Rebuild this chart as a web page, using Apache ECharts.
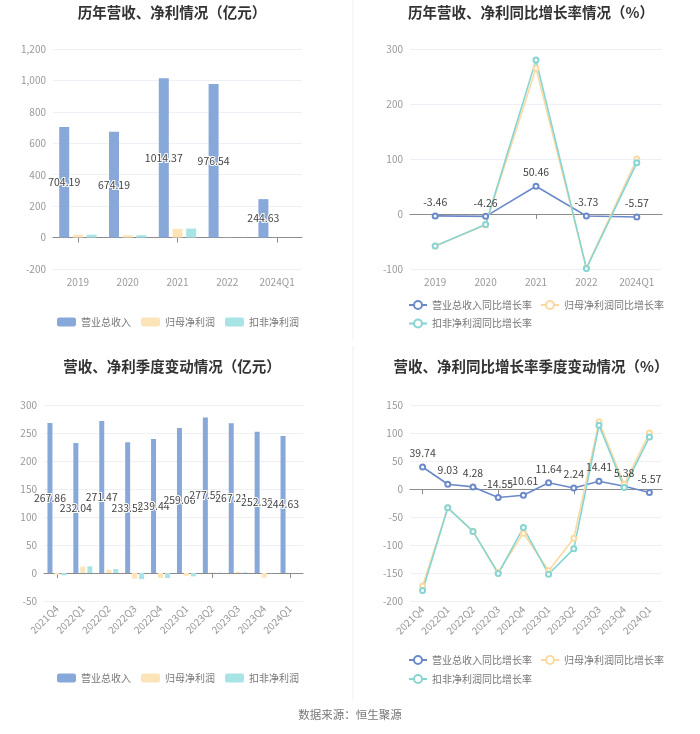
<!DOCTYPE html>
<html><head><meta charset="utf-8">
<script src="https://cdn.jsdelivr.net/npm/echarts@6/dist/echarts.min.js"></script>
<style>html,body{margin:0;padding:0;background:#fff}#c{width:700px;height:734px}</style>
</head><body><div id="c"></div>
<script>
const yearCats = ['2019','2020','2021','2022','2024Q1'];
const yearRevenue = [704.19, 674.19, 1014.37, 976.54, 244.63];
const yearNetProfit = [18, 14.5, 55, 1.1, 0.4];
const yearDeductedProfit = [18.5, 15, 57, 0.6, 0.3];
const yearRevenueGrowth = [-3.46, -4.26, 50.46, -3.73, -5.57];
const yearNetProfitGrowth = [-58, -20, 265, -98, 100];
const yearDeductedGrowth = [-58, -19, 280, -99, 93];

const quarterCats = ['2021Q4','2022Q1','2022Q2','2022Q3','2022Q4','2023Q1','2023Q2','2023Q3','2023Q4','2024Q1'];
const quarterRevenue = [267.86, 232.04, 271.47, 233.55, 239.44, 259.06, 277.55, 267.21, 252.32, 244.63];
const quarterNetProfit = [-3, 11.5, 6, -10, -8.5, -5, 0.9, 2, -8, 0.05];
const quarterDeductedProfit = [-4, 12, 7, -11, -9, -6, 0.4, 1, -0.3, 0.1];
const quarterRevenueGrowth = [39.74, 9.03, 4.28, -14.55, -10.61, 11.64, 2.24, 14.41, 5.38, -5.57];
const quarterNetProfitGrowth = [-172, -33, -75, -148, -78, -145, -87, 120, 9, 100];
const quarterDeductedGrowth = [-180, -33, -75, -150, -68, -151, -106, 114, 3, 93];

const seriesNames = ['营业总收入', '归母净利润', '扣非净利润'];
const growthNames = ['营业总收入同比增长率', '归母净利润同比增长率', '扣非净利润同比增长率'];
const titles = ['历年营收、净利情况（亿元）', '历年营收、净利同比增长率情况（%）', '营收、净利季度变动情况（亿元）', '营收、净利同比增长率季度变动情况（%）'];

const FONT = '"Noto Sans CJK SC", "Noto Sans", sans-serif';
const barColors = ['#88a8da', '#fde3b8', '#a8e3e6'];
const lineColors = ['#6c8aca', '#fcd9a0', '#86d5d3'];
const gridCol = '#eef0f5';
const axisCol = '#8c8c8c';

const grids = [
  {left: 53, top: 49, width: 249, height: 220},
  {left: 410, top: 49, width: 252, height: 220},
  {left: 44, top: 405, width: 259, height: 196},
  {left: 410, top: 405, width: 252, height: 196.7}
];
const yRanges = [[-200, 1200, 200], [-100, 300, 100], [-50, 300, 50], [-200, 150, 50]];

const xAxis = [], yAxis = [], series = [];
grids.forEach((g, i) => {
  const cats = i < 2 ? yearCats : quarterCats;
  const rot = i < 2 ? 0 : 45;
  xAxis.push({
    type: 'category', gridIndex: i, data: cats,
    axisLine: {onZero: true, lineStyle: {color: axisCol, width: 1}},
    axisTick: {show: true, alignWithLabel: true, length: 5, lineStyle: {color: axisCol}},
    axisLabel: {show: false}, splitLine: {show: false}
  });
  xAxis.push({
    type: 'category', gridIndex: i, data: cats, position: 'bottom',
    axisLine: {show: false, onZero: false}, axisTick: {show: false},
    axisLabel: {color: '#999', fontSize: 10, fontFamily: FONT, rotate: rot, margin: rot ? 6 : 8, interval: 0},
    splitLine: {show: false}
  });
  const r = yRanges[i];
  yAxis.push({
    type: 'value', gridIndex: i, min: r[0], max: r[1], interval: r[2],
    axisLine: {show: false}, axisTick: {show: false},
    axisLabel: {color: '#999', fontSize: 10, fontFamily: FONT, margin: 7,
      formatter: v => v.toLocaleString('en-US')},
    splitLine: {lineStyle: {color: gridCol, width: 1}}
  });
});

function addBars(gi, vals, bw, gap) {
  vals.forEach((arr, k) => {
    series.push({
      name: seriesNames[k], type: 'bar', xAxisIndex: gi * 2, yAxisIndex: gi,
      data: arr, barWidth: bw, barGap: gap,
      itemStyle: {color: barColors[k]},
      label: k === 0 ? {show: true, position: 'inside', color: '#444', fontSize: 10.5, fontFamily: FONT,
        textBorderColor: '#fff', textBorderWidth: 2} : {show: false}
    });
  });
}
function addLines(gi, vals) {
  vals.forEach((arr, k) => {
    series.push({
      name: growthNames[k], type: 'line', xAxisIndex: gi * 2, yAxisIndex: gi,
      data: arr, symbol: 'emptyCircle', symbolSize: 5,
      lineStyle: {color: lineColors[k], width: 1.6},
      itemStyle: {color: lineColors[k], borderWidth: 1.3},
      label: k === 0 ? {show: true, position: 'top', color: '#444', fontSize: 10.5, fontFamily: FONT, distance: 5} : {show: false}
    });
  });
}
addBars(0, [yearRevenue, yearNetProfit, yearDeductedProfit], 10, '37%');
addLines(1, [yearRevenueGrowth, yearNetProfitGrowth, yearDeductedGrowth]);
addBars(2, [quarterRevenue, quarterNetProfit, quarterDeductedProfit], 5, '40%');
addLines(3, [quarterRevenueGrowth, quarterNetProfitGrowth, quarterDeductedGrowth]);

const titleCenters = [[167, 13], [526, 13], [167, 367], [526, 367]];
const title = titles.map((t, i) => ({
  text: t, left: titleCenters[i][0], top: titleCenters[i][1] - 13, textAlign: 'center',
  textStyle: {fontSize: 14.5, fontWeight: 'bold', color: '#333', fontFamily: FONT}
}));

const legTxt = {color: '#777', fontSize: 10, fontFamily: FONT};
const legend = [
  {data: seriesNames, left: 52, top: 312, itemWidth: 19, itemHeight: 9, itemGap: 10, textStyle: legTxt, icon: 'roundRect'},
  {data: seriesNames, left: 52, top: 668, itemWidth: 19, itemHeight: 9, itemGap: 10, textStyle: legTxt, icon: 'roundRect'},
  {data: growthNames.slice(0, 2), left: 403, top: 295, itemWidth: 18, itemHeight: 10, itemGap: 8, textStyle: legTxt},
  {data: growthNames.slice(2), left: 403, top: 313.5, itemWidth: 18, itemHeight: 10, itemGap: 8, textStyle: legTxt},
  {data: growthNames.slice(0, 2), left: 403, top: 650, itemWidth: 18, itemHeight: 10, itemGap: 8, textStyle: legTxt},
  {data: growthNames.slice(2), left: 403, top: 669, itemWidth: 18, itemHeight: 10, itemGap: 8, textStyle: legTxt}
];

const chart = echarts.init(document.getElementById('c'), null, {renderer: 'canvas'});
chart.setOption({
  backgroundColor: '#fff',
  animation: false,
  title, legend, grid: grids, xAxis, yAxis, series,
  graphic: [
    {type: 'line', shape: {x1: 353, y1: 0, x2: 353, y2: 340}, style: {stroke: '#efefef', lineWidth: 1}},
    {type: 'line', shape: {x1: 353, y1: 346, x2: 353, y2: 700}, style: {stroke: '#efefef', lineWidth: 1}},
    {type: 'text', left: 'center', top: 709, style: {text: '数据来源：恒生聚源', fill: '#777', fontSize: 11.5, fontFamily: FONT}}
  ]
});
</script></body></html>
